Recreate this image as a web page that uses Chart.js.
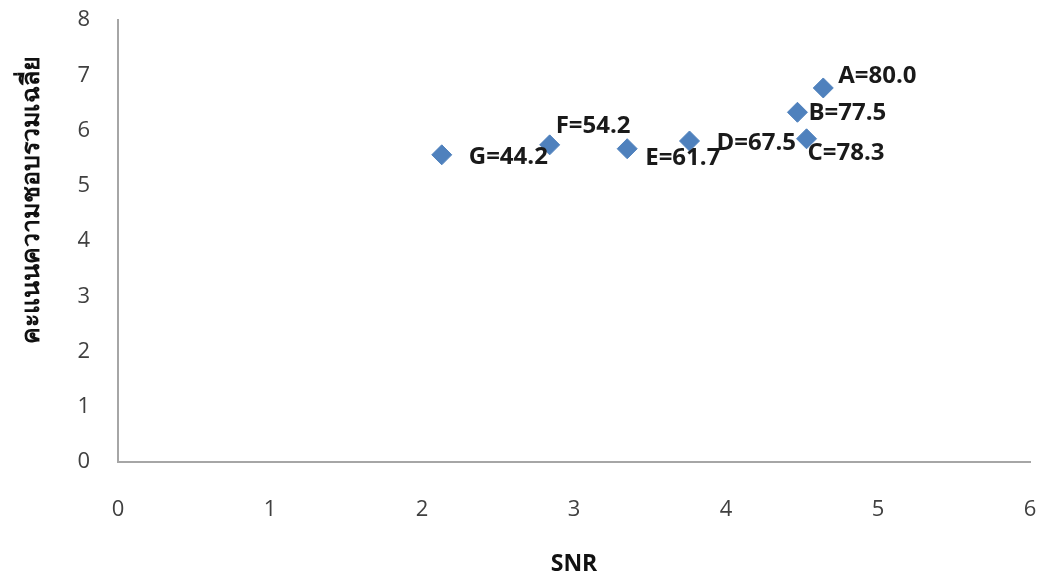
<!DOCTYPE html>
<html>
<head>
<meta charset="utf-8">
<script src="https://cdn.jsdelivr.net/npm/chart.js@4.4.0/dist/chart.umd.min.js"></script>
<style>
  html, body { margin: 0; padding: 0; background: #fff; }
  #wrap { width: 1041px; height: 578px; position: relative; }
</style>
</head>
<body>
<div id="wrap"><canvas id="snrChart"></canvas></div>
<script>
const names = ['A', 'B', 'C', 'D', 'E', 'F', 'G'];
const ratings = ['80.0', '77.5', '78.3', '67.5', '61.7', '54.2', '44.2'];
const snr = [4.64, 4.47, 4.53, 3.76, 3.35, 2.84, 2.13];
const score = [6.77, 6.33, 5.85, 5.81, 5.67, 5.74, 5.56];
const xTicks = [0, 1, 2, 3, 4, 5, 6];
const yTicks = [0, 1, 2, 3, 4, 5, 6, 7, 8];
const yTitle = 'คะแนนความชอบรวมเฉลี่ย';

// where each label sits relative to its point (px)
const labelOffsets = [[15, -12], [11, 1], [1, 14], [27, 2], [18, 9], [6, -19], [27, 2]];

const pointLabels = {
    id: 'pointLabels',
    afterDatasetsDraw(chart) {
        const ctx = chart.ctx;
        const meta = chart.getDatasetMeta(0);
        ctx.save();
        ctx.font = 'bold 24px "Open Sans"';
        ctx.fillStyle = '#1a1a1a';
        ctx.textAlign = 'left';
        ctx.textBaseline = 'middle';
        meta.data.forEach(function (pt, i) {
            ctx.fillText(names[i] + '=' + ratings[i], pt.x + labelOffsets[i][0], pt.y + labelOffsets[i][1]);
        });
        ctx.restore();
    }
};

// y title sits a bit above the middle of the axis in the original
const yTitlePlugin = {
    id: 'yTitle',
    afterDraw(chart) {
        const ctx = chart.ctx;
        ctx.save();
        ctx.translate(32, 200);
        ctx.rotate(-Math.PI / 2);
        ctx.font = 'bold 25px "Noto Sans", sans-serif';
        ctx.fillStyle = '#111';
        ctx.textAlign = 'center';
        ctx.textBaseline = 'middle';
        ctx.fillText(yTitle, 0, 0);
        ctx.restore();
    }
};

const data = {
    datasets: [{
        label: 'score',
        data: snr.map(function (x, i) { return { x: x, y: score[i] }; }),
        pointStyle: 'rectRot',
        pointRadius: 10,
        pointHoverRadius: 10,
        backgroundColor: '#4f81bd',
        borderColor: '#4f81bd',
        borderWidth: 1
    }]
};

const config = {
    type: 'scatter',
    data: data,
    options: {
        responsive: true,
        maintainAspectRatio: false,
        animation: false,
        layout: { padding: { top: 20, right: 11, left: 0, bottom: 0 } },
        plugins: {
            legend: { display: false },
            tooltip: { enabled: false }
        },
        scales: {
            x: {
                type: 'linear',
                min: 0,
                max: 6,
                afterBuildTicks: function (s) { s.ticks = xTicks.map(function (v) { return { value: v }; }); },
                grid: { display: false },
                border: { display: true, color: '#a6a6a6', width: 2 },
                ticks: { padding: 27, color: '#404040', font: { family: 'Open Sans', size: 22 } },
                title: {
                    display: true,
                    text: 'SNR',
                    color: '#111',
                    padding: { top: 18, bottom: 0 },
                    font: { family: 'Open Sans', size: 23, weight: 'bold' }
                },
                afterFit: function (s) {
                    s.height = 578 - 462;
                    s.paddingLeft = 0;
                    s.paddingRight = 0;
                }
            },
            y: {
                type: 'linear',
                min: 0,
                max: 8,
                afterBuildTicks: function (s) { s.ticks = yTicks.map(function (v) { return { value: v }; }); },
                grid: { display: false },
                border: { display: true, color: '#a6a6a6', width: 2 },
                ticks: { padding: 20, color: '#404040', font: { family: 'Open Sans', size: 22 } },
                afterFit: function (s) {
                    s.width = 118;
                    s.paddingTop = 0;
                    s.paddingBottom = 0;
                }
            }
        }
    },
    plugins: [pointLabels, yTitlePlugin]
};

window.addEventListener('load', function () {
    const ctx = document.getElementById('snrChart').getContext('2d');
    const snrChart = new Chart(ctx, config);
});
</script>
</body>
</html>
